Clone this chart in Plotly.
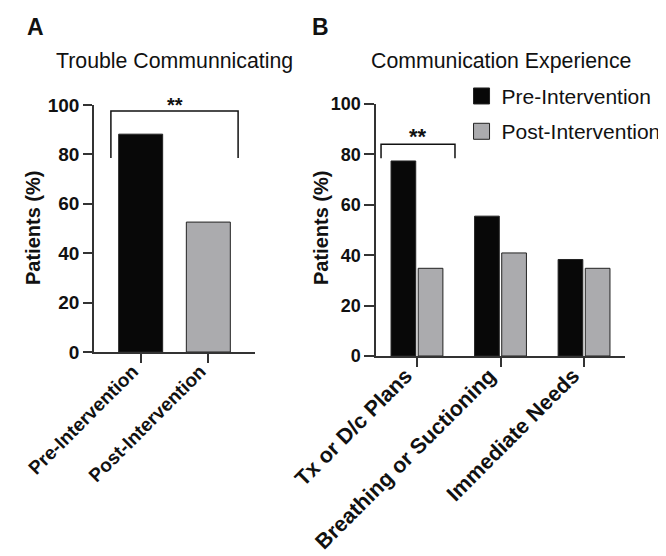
import plotly.graph_objects as go

# ---- data ----
a_categories = ["Pre-Intervention", "Post-Intervention"]
a_values = [88.2, 52.6]
a_colors = ["#080808", "#ababae"]

b_categories = ["Tx or D/c Plans", "Breathing or Suctioning", "Immediate Needs"]
b_pre = [77.4, 55.5, 38.3]
b_post = [34.8, 40.9, 34.8]
series_names = ["Pre-Intervention", "Post-Intervention"]

y_ticks = [0, 20, 40, 60, 80, 100]

FONT = "Liberation Sans, Arial, sans-serif"
AXC = "#333333"
BLACK = "#080808"
GRAY = "#ababae"

fig = go.Figure()

fig.add_trace(go.Bar(x=a_categories, y=a_values, marker=dict(color=a_colors, line=dict(color="#222", width=1)),
                     width=0.65, showlegend=False, xaxis="x", yaxis="y"))

fig.add_trace(go.Bar(x=b_categories, y=b_pre, name=series_names[0], marker=dict(color=BLACK, line=dict(color="#222", width=1)),
                     showlegend=False, xaxis="x2", yaxis="y2"))
fig.add_trace(go.Bar(x=b_categories, y=b_post, name=series_names[1], marker=dict(color=GRAY, line=dict(color="#222", width=1)),
                     showlegend=False, xaxis="x2", yaxis="y2"))

# legend entries
for nm, col, grp in [(series_names[0], BLACK, "g1"), (series_names[1], GRAY, "g2")]:
    fig.add_trace(go.Scatter(x=[None], y=[None], mode="markers", name=nm, legendgroup=grp,
                             marker=dict(symbol="square", size=16, color=col, line=dict(color="#222", width=1)),
                             xaxis="x2", yaxis="y2"))

yax_common = dict(range=[0, 100], tickvals=y_ticks, showgrid=False, zeroline=False, showline=True,
                  linecolor=AXC, linewidth=1.5, ticks="outside", tickcolor=AXC, tickwidth=1.5,
                  fixedrange=True, automargin=False)

fig.update_layout(
    width=666, height=556,
    margin=dict(l=0, r=0, t=0, b=0),
    paper_bgcolor="white", plot_bgcolor="white",
    font=dict(family=FONT, color="#111"),
    barmode="group", bargap=0.35, bargroupgap=0.09,
    xaxis=dict(domain=[0.1291, 0.3709], range=[-0.69, 1.69], showline=True, linecolor=AXC, linewidth=1.5,
               ticks="outside", ticklen=9, tickcolor=AXC, tickwidth=1.5, tickangle=-45,
               ticklabelstandoff=-10, ticklabelshift=-8,
               tickfont=dict(size=19, weight="bold", family=FONT), showgrid=False, automargin=False),
    yaxis=dict(domain=[0.3813, 0.8255], ticklen=9, tickfont=dict(size=19, weight="bold", family=FONT), **yax_common),
    xaxis2=dict(domain=[0.5526, 0.9264], range=[-0.49, 2.49], anchor="y2", showline=True, linecolor=AXC, linewidth=1.5,
                ticks="outside", ticklen=9, tickcolor=AXC, tickwidth=1.5, tickangle=-45,
                ticklabelstandoff=-12, ticklabelshift=-11,
                tickfont=dict(size=21.5, weight="bold", family=FONT), showgrid=False, automargin=False),
    yaxis2=dict(domain=[0.3741, 0.8273], anchor="x2", ticklen=10, tickfont=dict(size=18, weight="bold", family=FONT), **yax_common),
    legend=dict(x=0.681, y=0.878, xanchor="left", yanchor="top", font=dict(size=21, family=FONT),
                tracegroupgap=5, itemsizing="trace", bgcolor="rgba(0,0,0,0)"),
)

# significance brackets
line = dict(color="#111", width=1.5)
fig.add_shape(type="path", path="M -0.44,78.5 L -0.44,97.6 L 1.44,97.6 L 1.44,78.5", xref="x", yref="y", line=line)
fig.add_shape(type="path", path="M -0.43,78.5 L -0.43,84 L 0.455,84 L 0.455,78.5", xref="x2", yref="y2", line=line)
fig.add_annotation(x=167 / 666, y=1 - 97 / 556, xref="paper", yref="paper", text="<b>**</b>", showarrow=False,
                   font=dict(size=20, family=FONT), xanchor="center", yanchor="middle")
fig.add_annotation(x=0.01, y=87.2, xref="x2", yref="y2", text="<b>**</b>", showarrow=False,
                   font=dict(size=22, family=FONT), xanchor="center", yanchor="middle")

# titles and panel letters
def pann(x, y, text, size, bold=False, angle=0):
    fig.add_annotation(x=x / 666, y=1 - y / 556, xref="paper", yref="paper", text=text, showarrow=False,
                       xanchor="center", yanchor="middle", textangle=angle,
                       font=dict(size=size, family=FONT, weight="bold" if bold else "normal", color="#111"))

pann(27, 19, "A", 23, bold=True)
pann(312, 19, "B", 23, bold=True)
pann(166, 53, "Trouble Communnicating", 21.3)
pann(493, 53, "Communication Experience", 21.3)
pann(25, 220, "Patients (%)", 20, bold=True, angle=-90)
pann(313, 220, "Patients (%)", 20, bold=True, angle=-90)

fig.write_html("out.html")
